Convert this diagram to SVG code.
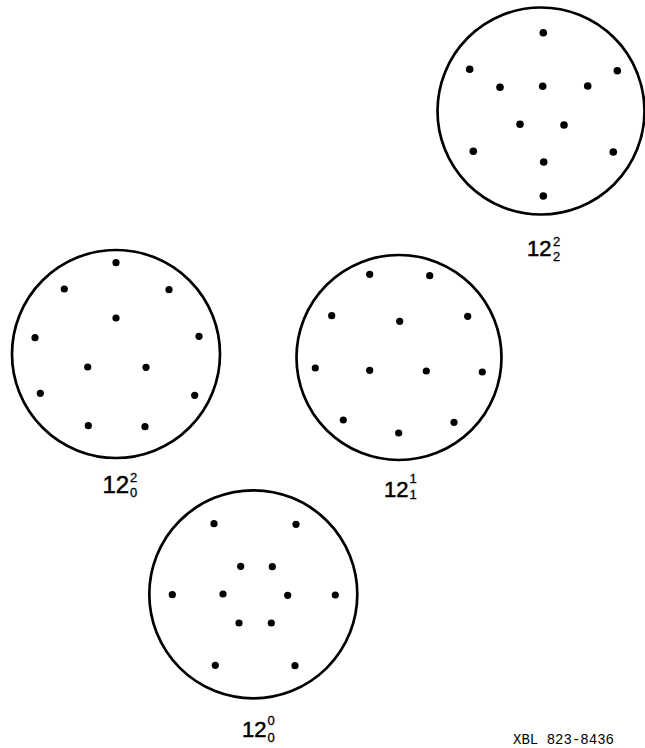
<svg xmlns="http://www.w3.org/2000/svg" width="645" height="748" viewBox="0 0 645 748">
  <style>
    .ring { fill: none; stroke: #000; stroke-width: 2.7; }
    .dot { fill: #000; }
    .big { font-family: "Liberation Sans", "DejaVu Sans", sans-serif; font-size: 24px; fill: #000; stroke: #000; stroke-width: 0.5; }
    .mid { font-size: 22px; }
    .idx { font-family: "Liberation Sans", "DejaVu Sans", sans-serif; font-size: 13px; fill: #000; stroke: #000; stroke-width: 0.3; }
    .ref { font-family: "Liberation Mono", "DejaVu Sans Mono", monospace; font-size: 15px; fill: #000; }
  </style>
  <rect width="645" height="748" fill="#fff"/>

  <!-- pattern 12 (2,2) -->
  <g id="p12-2-2">
    <circle class="ring" cx="541" cy="111" r="103.5"/>
    <g class="dot">
      <circle cx="543.3" cy="32.7" r="3.8"/>
      <circle cx="469.7" cy="69.3" r="3.8"/>
      <circle cx="617.3" cy="70.7" r="3.8"/>
      <circle cx="500" cy="87.3" r="3.8"/>
      <circle cx="542.7" cy="86.3" r="3.8"/>
      <circle cx="587.7" cy="86" r="3.8"/>
      <circle cx="520" cy="124.3" r="3.8"/>
      <circle cx="564" cy="125" r="3.8"/>
      <circle cx="473.3" cy="151.3" r="3.8"/>
      <circle cx="613.3" cy="152" r="3.8"/>
      <circle cx="543.7" cy="162" r="3.8"/>
      <circle cx="543.3" cy="196" r="3.8"/>
    </g>
    <text class="big mid" x="527" y="256">12</text>
    <text class="idx" x="553" y="246">2</text>
    <text class="idx" x="553" y="260.5">2</text>
  </g>

  <!-- pattern 12 (0,2) -->
  <g id="p12-0-2">
    <circle class="ring" cx="116" cy="354" r="104"/>
    <g class="dot">
      <circle cx="116" cy="262.7" r="3.6"/>
      <circle cx="64.3" cy="289" r="3.6"/>
      <circle cx="169" cy="289.7" r="3.6"/>
      <circle cx="116" cy="318" r="3.6"/>
      <circle cx="35" cy="337.7" r="3.6"/>
      <circle cx="199" cy="336.3" r="3.6"/>
      <circle cx="87.7" cy="367" r="3.6"/>
      <circle cx="146" cy="367.3" r="3.6"/>
      <circle cx="40.3" cy="393.3" r="3.6"/>
      <circle cx="194.7" cy="395.3" r="3.6"/>
      <circle cx="88.3" cy="425.7" r="3.6"/>
      <circle cx="145" cy="426.7" r="3.6"/>
    </g>
    <text class="big" x="102.5" y="493">12</text>
    <text class="idx" x="130" y="481.5">2</text>
    <text class="idx" x="130" y="497">0</text>
  </g>

  <!-- pattern 12 (1,1) -->
  <g id="p12-1-1">
    <circle class="ring" cx="399" cy="357.5" r="102.5"/>
    <g class="dot">
      <circle cx="369.7" cy="274.3" r="3.6"/>
      <circle cx="429.7" cy="275.7" r="3.6"/>
      <circle cx="331.7" cy="315.7" r="3.6"/>
      <circle cx="467.7" cy="316.3" r="3.6"/>
      <circle cx="399.7" cy="321.3" r="3.6"/>
      <circle cx="315.3" cy="368" r="3.6"/>
      <circle cx="369.7" cy="370.3" r="3.6"/>
      <circle cx="426.3" cy="371" r="3.6"/>
      <circle cx="482.3" cy="372" r="3.6"/>
      <circle cx="343.3" cy="420" r="3.6"/>
      <circle cx="454" cy="422.3" r="3.6"/>
      <circle cx="398.7" cy="433" r="3.6"/>
    </g>
    <text class="big mid" x="384" y="497">12</text>
    <text class="idx" x="409.5" y="483">1</text>
    <text class="idx" x="409.5" y="498.5">1</text>
  </g>

  <!-- pattern 12 (0,0) -->
  <g id="p12-0-0">
    <circle class="ring" cx="253.3" cy="594.3" r="104"/>
    <g class="dot">
      <circle cx="214" cy="523.7" r="3.6"/>
      <circle cx="296" cy="524.3" r="3.6"/>
      <circle cx="240.7" cy="566.3" r="3.6"/>
      <circle cx="272.3" cy="566.7" r="3.6"/>
      <circle cx="172.3" cy="594.7" r="3.6"/>
      <circle cx="223" cy="594" r="3.6"/>
      <circle cx="287.7" cy="595.3" r="3.6"/>
      <circle cx="335.3" cy="595" r="3.6"/>
      <circle cx="239" cy="623" r="3.6"/>
      <circle cx="271.3" cy="623" r="3.6"/>
      <circle cx="215.3" cy="665.3" r="3.6"/>
      <circle cx="295" cy="665.7" r="3.6"/>
    </g>
    <text class="big mid" x="242" y="737">12</text>
    <text class="idx" x="267.5" y="725">0</text>
    <text class="idx" x="267.5" y="741.5">0</text>
  </g>

  <!-- drawing reference number -->
  <text class="ref" x="513" y="744" textLength="101" lengthAdjust="spacingAndGlyphs">XBL 823-8436</text>
</svg>
